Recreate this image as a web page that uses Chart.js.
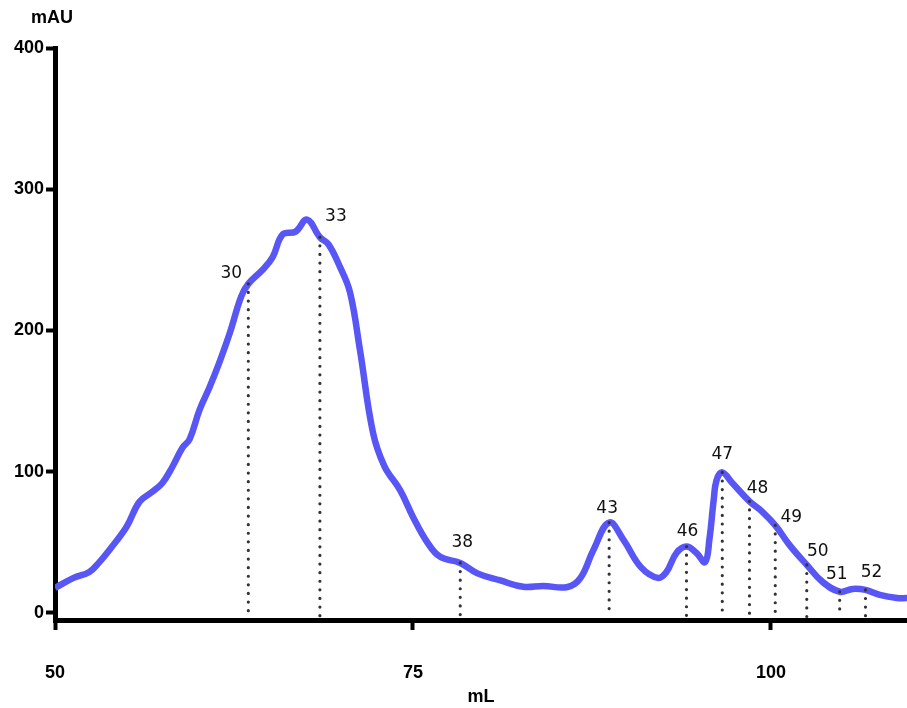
<!DOCTYPE html>
<html>
<head>
<meta charset="utf-8">
<title>Elution profile</title>
<script src="https://cdn.jsdelivr.net/npm/chart.js@4.4.1/dist/chart.umd.min.js"></script>
<style>
  html, body { margin: 0; padding: 0; background: #fff; }
  #wrap { width: 907px; height: 708px; }
</style>
</head>
<body>
<div id="wrap"><canvas id="chart" width="907" height="708"></canvas></div>
<script>
// elution volume (mL) and UV absorbance (mAU)
const volume = [
  50.0, 51.3, 52.4, 53.1, 53.8, 55.0, 55.9, 56.8, 57.5, 58.2, 58.9, 59.4,
  60.1, 60.8, 61.5, 62.2, 63.0, 63.5, 64.5, 65.2, 65.9, 66.8, 67.6, 68.5,
  69.1, 69.9, 70.6, 71.3, 72.2, 73.0, 74.1, 75.0, 76.0, 76.9, 78.3, 79.5,
  81.1, 82.7, 84.1, 85.8, 86.7, 87.6, 88.7, 89.7, 90.9, 92.1, 92.7, 93.4,
  94.1, 94.8, 95.4, 95.7, 96.0, 96.2, 96.6, 97.3, 98.5, 99.4, 100.3, 101.3,
  102.5, 103.6, 104.8, 105.7, 106.6, 107.6, 108.8, 109.5
];
const absorbance = [
  17.7, 24.8, 29, 36, 44.6, 61, 78.7, 85.8, 92, 103.5, 117, 123,
  144, 160, 178, 198, 224, 233, 243, 252, 268, 270, 278.5, 266,
  261, 245, 227, 186, 128, 104, 87, 68, 50, 39.7, 35.4, 28,
  23, 18.5, 19.1, 18.4, 24.8, 44.6, 64, 51.7, 32.6, 24.8, 29, 42.5,
  47, 42.5, 36, 52, 80, 94, 99.5, 92, 79, 71.6, 62, 48,
  34, 22, 15, 17, 16.3, 12.8, 10.6, 10.5
];

// collected fractions: start volume and tube number
const fractionVolume = [63.5, 68.5, 78.3, 88.7, 94.1, 96.6, 98.5, 100.3, 102.5, 104.8, 106.6];
const fractionLabels = ['30', '33', '38', '43', '46', '47', '48', '49', '50', '51', '52'];

const xTicks = [50, 75, 100];
const yTicks = [0, 100, 200, 300, 400];

// where each tube number sits relative to the top of its marker
const labelShift = {
  '30': [-17, -10], '33': [16, -21], '38': [2, -20], '43': [-2, -14],
  '46': [1, -15], '47': [0, -18], '48': [8, -13], '49': [16, -8],
  '50': [11, -13], '51': [-3, -17], '52': [6, -17]
};

const axisFont = { family: 'Liberation Sans', size: 18, weight: 'bold' };

const fractionMarks = {
  id: 'fractionMarks',
  afterDatasetsDraw(chart) {
    const { ctx, chartArea, scales: { x, y } } = chart;
    ctx.save();
    fractionVolume.forEach((v, i) => {
      const px = x.getPixelForValue(v);
      const top = y.getPixelForValue(absorbance[volume.indexOf(v)]);
      ctx.strokeStyle = '#333';
      ctx.lineWidth = 3.2;
      ctx.lineCap = 'round';
      ctx.setLineDash([0, 8.6]);
      ctx.beginPath();
      ctx.moveTo(px, top);
      ctx.lineTo(px, chartArea.bottom - 3);
      ctx.stroke();

      const label = fractionLabels[i];
      const [dx, dy] = labelShift[label];
      ctx.setLineDash([]);
      ctx.fillStyle = '#111';
      ctx.font = '17px "DejaVu Sans"';
      ctx.textAlign = 'center';
      ctx.textBaseline = 'middle';
      ctx.fillText(label, px + dx, top + dy);
    });
    ctx.restore();
  },
  afterDraw(chart) {
    const { ctx, chartArea } = chart;
    ctx.save();
    ctx.fillStyle = '#000';
    ctx.font = 'bold 18px "Liberation Sans"';
    ctx.textAlign = 'center';
    ctx.textBaseline = 'middle';
    ctx.fillText('mAU', chartArea.left - 3, 18);
    ctx.restore();
  }
};

new Chart(document.getElementById('chart'), {
  type: 'line',
  data: {
    datasets: [{
      data: volume.map((v, i) => ({ x: v, y: absorbance[i] })),
      borderColor: 'rgb(88, 86, 245)',
      borderWidth: 6.5,
      pointRadius: 0,
      tension: 0.4,
      borderJoinStyle: 'round',
      fill: false
    }]
  },
  options: {
    responsive: false,
    animation: false,
    layout: { padding: { top: 48, right: 0, bottom: 0, left: 0 } },
    plugins: {
      legend: { display: false },
      tooltip: { enabled: false }
    },
    scales: {
      x: {
        type: 'linear',
        min: 50,
        max: 109.5,
        afterBuildTicks: s => { s.ticks = xTicks.map(v => ({ value: v })); },
        afterFit: s => { s.height = 88; },
        border: { display: true, color: '#000', width: 5 },
        grid: { display: true, drawOnChartArea: false, drawTicks: true, tickLength: 10, tickWidth: 4, color: '#000' },
        ticks: { color: '#000', padding: 32, maxRotation: 0, font: axisFont },
        title: { display: true, text: 'mL', color: '#000', padding: 0, font: axisFont }
      },
      y: {
        type: 'linear',
        min: -5,
        max: 400,
        afterBuildTicks: s => { s.ticks = yTicks.map(v => ({ value: v })); },
        afterFit: s => { s.width = 55; },
        border: { display: true, color: '#000', width: 5 },
        grid: { display: true, drawOnChartArea: false, drawTicks: true, tickLength: 9, tickWidth: 4, color: '#000' },
        ticks: { color: '#000', padding: 2, font: axisFont }
      }
    }
  },
  plugins: [fractionMarks]
});
</script>
</body>
</html>
